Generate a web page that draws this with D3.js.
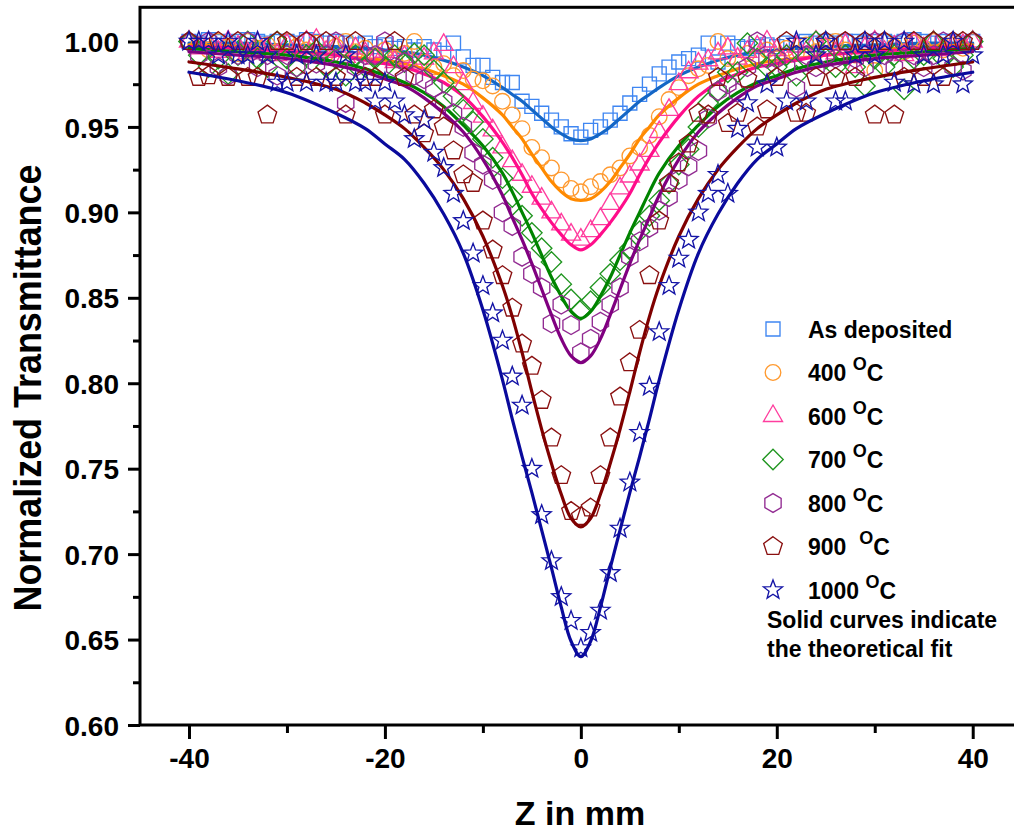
<!DOCTYPE html>
<html>
<head>
<meta charset="utf-8">
<script src="https://cdn.jsdelivr.net/npm/d3@7"></script>
<style>
  body { margin: 0; background: #fff; }
  text { font-family: "Liberation Sans", Arial, sans-serif; font-weight: bold; fill: #000; }
</style>
</head>
<body>
<svg id="chart" width="1014" height="833"></svg>
<script>
// Sample positions along the beam (mm)
const zPositions = [
  -40,-39,-38,-37,-36,-35,-34,-33,-32,-31,
  -30,-29,-28,-27,-26,-25,-24,-23,-22,-21,
  -20,-19,-18,-17,-16,-15,-14,-13,-12,-11,
  -10,-9,-8,-7,-6,-5,-4,-3,-2,-1,
  0,
  1,2,3,4,5,6,7,8,9,10,
  11,12,13,14,15,16,17,18,19,20,
  21,22,23,24,25,26,27,28,29,30,
  31,32,33,34,35,36,37,38,39,40
];

// Measured normalized transmittance, one value per z position
const asDeposited = [
  1.000,0.999,1.001,1.000,0.999,1.000,1.001,1.000,0.999,1.000,
  1.000,0.999,1.001,1.000,0.999,1.000,0.999,0.998,0.999,0.997,
  0.998,0.996,0.997,0.995,0.997,0.995,0.993,0.999,0.991,0.986,
  0.986,0.979,0.976,0.976,0.965,0.962,0.958,0.954,0.950,0.946,
  0.944,
  0.948,0.950,0.954,0.958,0.964,0.969,0.975,0.981,0.985,0.988,
  0.990,0.992,0.999,0.988,0.999,0.997,0.996,0.997,0.998,0.997,
  0.999,0.998,1.000,0.999,1.000,0.999,1.000,1.000,0.999,1.000,
  1.000,0.999,1.000,1.001,1.000,0.999,1.000,1.000,0.999,1.000
];
const annealed400 = [
  1.000,0.998,0.995,1.000,0.997,0.993,1.000,0.996,0.998,0.994,
  1.000,0.997,0.995,0.999,0.993,0.997,1.000,0.994,0.996,0.991,
  0.995,0.990,0.993,1.000,0.988,0.985,0.987,0.980,0.983,0.978,
  0.977,0.974,0.965,0.957,0.949,0.938,0.932,0.926,0.919,0.914,
  0.912,
  0.915,0.918,0.922,0.926,0.933,0.938,0.945,0.956,0.966,0.973,
  0.980,0.984,0.986,1.000,0.990,0.988,0.993,0.991,0.995,0.990,
  0.996,0.993,0.998,0.994,0.997,1.000,0.995,0.992,0.998,0.983,
  1.000,0.997,0.994,0.999,0.996,1.000,0.995,0.998,0.996,1.000
];
const annealed600 = [
  1.000,0.996,0.999,0.994,1.000,0.997,0.993,0.999,0.996,0.992,
  0.998,0.995,1.000,1.001,0.994,0.997,0.991,0.996,0.993,0.990,
  0.994,0.988,0.991,0.987,0.990,0.993,0.998,0.985,0.975,0.964,
  0.956,0.948,0.938,0.930,0.922,0.915,0.908,0.900,0.893,0.887,
  0.884,
  0.889,0.896,0.905,0.914,0.921,0.928,0.936,0.947,0.960,0.975,
  0.982,0.987,0.989,0.993,0.996,0.990,0.994,0.997,1.000,0.995,
  0.992,0.997,0.994,1.000,0.996,0.993,0.998,0.985,0.996,1.000,
  0.994,0.997,0.992,0.999,0.996,1.000,0.995,0.998,0.998,1.000
];
const annealed700 = [
  1.000,0.992,0.985,0.990,0.981,0.992,1.000,0.990,0.985,1.000,
  0.990,0.985,0.992,0.995,0.985,0.990,0.980,0.992,0.985,0.990,
  0.985,0.992,0.988,0.993,0.992,0.983,0.976,0.968,0.960,0.953,
  0.943,0.932,0.920,0.909,0.898,0.888,0.879,0.871,0.858,0.849,
  0.843,
  0.848,0.856,0.864,0.872,0.879,0.889,0.898,0.907,0.917,0.928,
  0.937,0.950,0.964,0.971,0.982,0.982,0.999,0.990,0.985,0.985,
  0.992,0.980,0.990,1.000,0.990,0.985,0.992,0.985,0.974,0.990,
  0.985,0.992,0.972,0.990,0.992,1.000,0.990,0.985,0.992,1.000
];
const annealed800 = [
  1.000,0.992,1.000,0.985,0.980,0.992,1.000,0.985,0.992,0.980,
  0.992,0.985,1.000,0.987,0.992,1.000,0.964,0.985,0.992,0.992,
  1.000,0.985,0.988,0.980,0.978,0.973,0.965,0.958,0.950,0.935,
  0.928,0.919,0.900,0.892,0.874,0.864,0.856,0.835,0.846,0.834,
  0.818,
  0.826,0.836,0.846,0.856,0.874,0.883,0.891,0.901,0.909,0.919,
  0.927,0.936,0.955,0.971,0.975,0.970,0.985,1.000,0.990,0.990,
  0.985,0.973,0.992,0.985,0.992,0.990,1.000,0.990,0.985,1.000,
  0.992,0.985,1.000,0.992,0.985,0.992,1.000,0.985,0.983,1.000
];
const annealed900 = [
  1.000,0.979,0.980,1.000,0.979,1.000,0.979,0.979,0.957,1.000,
  1.000,0.979,1.000,0.979,1.000,0.979,0.957,1.000,0.979,0.979,
  0.957,1.000,0.979,0.957,0.946,0.960,0.950,0.936,0.922,0.917,
  0.895,0.878,0.863,0.844,0.823,0.810,0.790,0.768,0.746,0.725,
  0.722,
  0.727,0.746,0.768,0.792,0.812,0.831,0.863,0.895,0.917,0.929,
  0.940,0.958,0.957,0.979,0.952,0.958,0.978,0.950,0.960,0.979,
  1.000,0.958,0.958,0.979,1.000,0.979,1.000,0.979,1.000,0.957,
  1.000,0.957,0.979,1.000,0.979,1.000,0.979,1.000,1.000,1.000
];
const annealed1000 = [
  1.000,1.000,1.000,0.992,1.000,0.992,0.992,1.000,0.992,0.976,
  0.976,0.992,0.976,0.992,0.976,0.976,0.992,0.976,0.976,0.965,
  0.976,0.965,0.957,0.943,0.954,0.935,0.926,0.911,0.895,0.876,
  0.857,0.841,0.825,0.804,0.787,0.750,0.723,0.696,0.675,0.661,
  0.645,
  0.654,0.667,0.689,0.715,0.742,0.771,0.798,0.830,0.857,0.873,
  0.884,0.900,0.911,0.922,0.911,0.949,0.964,0.938,0.975,0.938,
  0.965,1.000,0.965,0.992,1.000,0.965,0.965,0.992,1.000,0.992,
  1.000,0.976,1.000,0.975,0.992,0.975,0.992,1.000,0.975,0.992
];

// Theoretical fit curves, sampled along z
const fitZ = [-40,-35,-30,-25,-22,-20,-18,-16,-14,-12,-10,-8,-7,-6,-5,-4,-3,-2,-1,
  0,1,2,3,4,5,6,7,8,10,12,14,16,18,20,22,25,30,35,40];
const fitAsDeposited = [0.999,0.999,0.998,0.997,0.996,0.995,0.994,0.992,0.989,0.985,0.980,0.973,0.969,0.965,0.960,0.955,0.950,0.946,0.943,
  0.942,0.943,0.946,0.950,0.955,0.960,0.965,0.969,0.973,0.980,0.985,0.989,0.992,0.994,0.995,0.996,0.997,0.998,0.999,0.999];
const fit400 = [0.998,0.997,0.995,0.992,0.990,0.989,0.987,0.984,0.980,0.975,0.967,0.957,0.950,0.943,0.934,0.926,0.918,0.912,0.908,
  0.907,0.908,0.912,0.918,0.926,0.934,0.943,0.950,0.957,0.967,0.975,0.980,0.984,0.987,0.989,0.990,0.992,0.995,0.997,0.998];
const fit600 = [0.997,0.996,0.994,0.992,0.989,0.987,0.985,0.981,0.976,0.968,0.956,0.941,0.932,0.922,0.911,0.902,0.894,0.887,0.881,
  0.878,0.881,0.887,0.894,0.902,0.911,0.922,0.932,0.941,0.956,0.968,0.976,0.981,0.985,0.987,0.989,0.992,0.994,0.996,0.997];
const fit700 = [0.996,0.994,0.992,0.988,0.984,0.980,0.976,0.970,0.962,0.951,0.939,0.923,0.912,0.900,0.888,0.875,0.862,0.851,0.842,
  0.838,0.842,0.851,0.862,0.875,0.888,0.900,0.912,0.923,0.939,0.951,0.962,0.970,0.976,0.980,0.984,0.988,0.992,0.994,0.996];
const fit800 = [0.994,0.992,0.990,0.986,0.982,0.978,0.974,0.967,0.958,0.947,0.931,0.910,0.897,0.884,0.870,0.855,0.840,0.826,0.816,
  0.812,0.816,0.826,0.840,0.855,0.870,0.884,0.897,0.910,0.931,0.947,0.958,0.967,0.974,0.978,0.982,0.986,0.990,0.992,0.994];
const fit900 = [0.988,0.984,0.979,0.972,0.964,0.957,0.949,0.938,0.925,0.908,0.886,0.857,0.839,0.818,0.795,0.773,0.753,0.735,0.721,
  0.716,0.721,0.735,0.753,0.773,0.795,0.818,0.839,0.857,0.886,0.908,0.925,0.938,0.949,0.957,0.964,0.972,0.979,0.984,0.988];
const fit1000 = [0.982,0.977,0.970,0.958,0.949,0.940,0.931,0.917,0.899,0.876,0.843,0.802,0.779,0.757,0.736,0.714,0.692,0.669,0.649,
  0.640,0.649,0.669,0.692,0.714,0.736,0.757,0.779,0.802,0.843,0.876,0.899,0.917,0.931,0.940,0.949,0.958,0.970,0.977,0.982];

// Axis ticks
const xMajorTicks = [-40, -20, 0, 20, 40];
const xMinorTicks = [-30, -10, 10, 30];
const yMajorTicks = [0.60, 0.65, 0.70, 0.75, 0.80, 0.85, 0.90, 0.95, 1.00];
const yMinorTicks = [0.625, 0.675, 0.725, 0.775, 0.825, 0.875, 0.925, 0.975];

// Legend entries
const seriesNames = ["As deposited", "400", "600", "700", "800", "900", "1000"];
const seriesGaps = ["", " ", " ", " ", " ", "  ", " "];

// ---------- marker shapes ----------
function polygonPath(n, r, rot) {
  const pts = d3.range(n).map(i => {
    const a = rot + i * 2 * Math.PI / n;
    return [(r * Math.sin(a)).toFixed(2), (-r * Math.cos(a)).toFixed(2)];
  });
  return "M" + pts.map(p => p.join(",")).join("L") + "Z";
}
function starPath(ro, ri) {
  const pts = d3.range(10).map(i => {
    const r = i % 2 === 0 ? ro : ri;
    const a = i * Math.PI / 5;
    return [(r * Math.sin(a)).toFixed(2), (-r * Math.cos(a)).toFixed(2)];
  });
  return "M" + pts.map(p => p.join(",")).join("L") + "Z";
}
function circlePath(r) {
  return `M${r},0A${r},${r} 0 1 1 ${-r},0A${r},${r} 0 1 1 ${r},0Z`;
}
const shapes = {
  square: polygonPath(4, 7 * Math.SQRT2, Math.PI / 4),
  circle: circlePath(7.8),
  triangle: polygonPath(3, 11, 0),
  diamond: polygonPath(4, 10.2, 0),
  hexagon: polygonPath(6, 9.4, 0),
  pentagon: polygonPath(5, 9.8, 0),
  star: starPath(10, 4.2)
};

const series = [
  { values: asDeposited, fit: fitAsDeposited, shape: "square",   mark: "#3f86f2", line: "#1466c6" },
  { values: annealed400, fit: fit400,         shape: "circle",   mark: "#ff9a30", line: "#ff8a00" },
  { values: annealed600, fit: fit600,         shape: "triangle", mark: "#ff3d9e", line: "#ff0d8a" },
  { values: annealed700, fit: fit700,         shape: "diamond",  mark: "#1f951f", line: "#008400" },
  { values: annealed800, fit: fit800,         shape: "hexagon",  mark: "#922b92", line: "#800080" },
  { values: annealed900, fit: fit900,         shape: "pentagon", mark: "#8a1010", line: "#7f0000" },
  { values: annealed1000, fit: fit1000,       shape: "star",     mark: "#1414a6", line: "#0a0a9c" }
];

// ---------- chart ----------
const svg = d3.select("#chart");
svg.append("rect").attr("width", 1014).attr("height", 833).attr("fill", "#fff");

const x = d3.scaleLinear().domain([-45, 45]).range([140, 1021.7]);
const y = d3.scaleLinear().domain([0.6, 1.02]).range([725, 7.3]);

const plot = svg.append("g");
const line = d3.line()
  .x((d, i) => x(fitZ[i]))
  .y(d => y(d))
  .curve(d3.curveCatmullRom.alpha(0.5));

series.forEach(s => {
  const g = plot.append("g");
  g.selectAll("path.mk")
    .data(s.values)
    .join("path")
    .attr("class", "mk")
    .attr("d", shapes[s.shape])
    .attr("transform", (d, i) => `translate(${x(zPositions[i])},${y(d)})`)
    .attr("fill", "none")
    .attr("stroke", s.mark)
    .attr("stroke-width", 1.35);
  g.append("path")
    .datum(s.fit)
    .attr("d", line)
    .attr("fill", "none")
    .attr("stroke", s.line)
    .attr("stroke-width", 3.2)
    .attr("stroke-linecap", "round");
});

// ---------- axes ----------
const labelFont = "'Liberation Sans', Arial, sans-serif";

const xAxis = svg.append("g").attr("transform", "translate(0,725)");
const xMajor = xAxis.append("g")
  .call(d3.axisBottom(x).tickValues(xMajorTicks).tickSize(14)
    .tickFormat(d => d < 0 ? "-" + Math.abs(d) : String(d)));
const xMinor = xAxis.append("g")
  .call(d3.axisBottom(x).tickValues(xMinorTicks).tickSize(8).tickFormat(() => ""));
xAxis.selectAll(".domain").remove();
xAxis.selectAll("line").attr("stroke", "#000").attr("stroke-width", 3);
xMinor.selectAll("text").remove();
xMajor.selectAll("text")
  .attr("y", 43).attr("dy", 0)
  .style("font-size", "28px").style("font-weight", "bold")
  .style("font-family", labelFont).attr("fill", "#000");

const yAxis = svg.append("g").attr("transform", "translate(140,0)");
const yMajor = yAxis.append("g")
  .call(d3.axisLeft(y).tickValues(yMajorTicks).tickSize(12).tickFormat(d3.format(".2f")));
const yMinor = yAxis.append("g")
  .call(d3.axisLeft(y).tickValues(yMinorTicks).tickSize(7).tickFormat(() => ""));
yAxis.selectAll(".domain").remove();
yAxis.selectAll("line").attr("stroke", "#000").attr("stroke-width", 3);
yMinor.selectAll("text").remove();
yMajor.selectAll("text")
  .attr("x", -21).attr("dy", "0.36em")
  .style("font-size", "28px").style("font-weight", "bold")
  .style("font-family", labelFont).attr("fill", "#000");

// plot frame
svg.append("rect")
  .attr("x", 140).attr("y", y(1.02))
  .attr("width", x(45) - 140).attr("height", 725 - y(1.02))
  .attr("fill", "none").attr("stroke", "#000").attr("stroke-width", 3);

// axis titles
svg.append("text")
  .attr("x", 580).attr("y", 825)
  .attr("text-anchor", "middle")
  .style("font-size", "34px")
  .text("Z in mm");

svg.append("text")
  .attr("transform", "translate(41,388) rotate(-90)")
  .attr("text-anchor", "middle")
  .attr("textLength", 447).attr("lengthAdjust", "spacingAndGlyphs")
  .style("font-size", "38px")
  .style("font-family", "'Liberation Sans Narrow', 'Arial Narrow', 'Liberation Sans', sans-serif")
  .text("Normalized Transmittance");

// ---------- legend ----------
const legend = svg.append("g");
const rowY = d3.scaleLinear().domain([0, 6]).range([329, 590]);
series.forEach((s, i) => {
  const cy = rowY(i);
  legend.append("path")
    .attr("d", shapes[s.shape])
    .attr("transform", `translate(773,${cy})`)
    .attr("fill", "none").attr("stroke", s.mark).attr("stroke-width", 1.35);
  const t = legend.append("text")
    .attr("x", 808).attr("y", cy + 8.5)
    .style("font-size", "23px")
    .style("white-space", "pre");
  if (i === 0) {
    t.text(seriesNames[i]);
  } else {
    t.append("tspan").text(seriesNames[i] + seriesGaps[i]);
    t.append("tspan").attr("dy", -11).style("font-size", "18px").text("O");
    t.append("tspan").attr("dy", 11).text("C");
  }
});
legend.append("text").attr("x", 767).attr("y", 628).style("font-size", "23px").text("Solid curves indicate");
legend.append("text").attr("x", 767).attr("y", 657).style("font-size", "23px").text("the theoretical fit");
</script>
</body>
</html>
